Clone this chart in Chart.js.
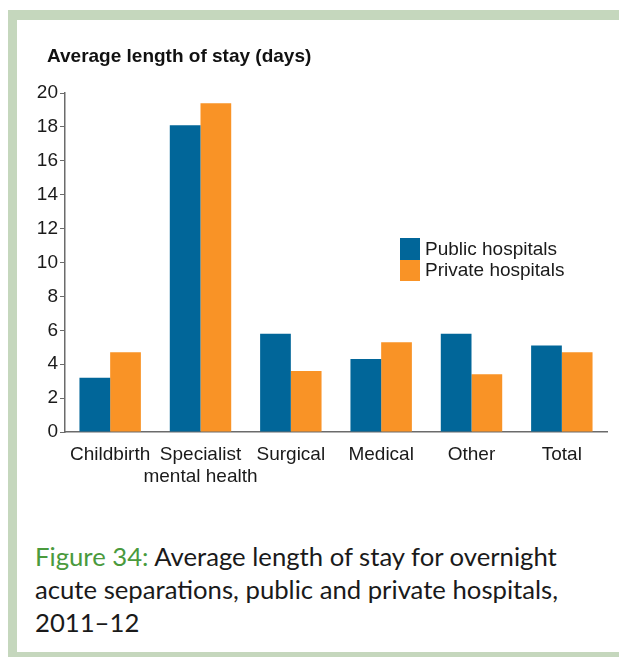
<!DOCTYPE html>
<html>
<head>
<meta charset="utf-8">
<title>Average length of stay</title>
<script src="https://cdn.jsdelivr.net/npm/chart.js@4/dist/chart.umd.min.js"></script>
<style>
  html, body { margin: 0; padding: 0; background: #fff; }
  body { width: 619px; height: 657px; position: relative; overflow: hidden; font-family: "Liberation Sans", Arial, sans-serif; }
  .frame { position: absolute; left: 8px; top: 10px; right: 0; bottom: 0; box-sizing: border-box;
           border-top: 10px solid #c5d7bd; border-left: 9px solid #c5d7bd; border-bottom: 5px solid #c5d7bd; }
  #chart { position: absolute; left: 0; top: 0; }
  .axis-title { position: absolute; left: 47px; top: 45px; font-weight: bold; font-size: 19px; color: #111; white-space: nowrap; }
  .legend { position: absolute; left: 400px; top: 238px; }
  .legend-item { height: 21.5px; display: flex; align-items: center; font-size: 19px; color: #1a1a1a; white-space: nowrap; }
  .swatch { width: 20px; height: 21.5px; margin-right: 5px; }
  .caption { position: absolute; left: 35px; top: 540px; font-family: "Lato", "Open Sans", sans-serif; font-size: 25.7px; line-height: 33px; color: #1a1a1a; }
  .caption .fig { color: #4a9a3d; }
</style>
</head>
<body>
<div class="frame"></div>
<canvas id="chart" width="619" height="520"></canvas>
<div class="axis-title">Average length of stay (days)</div>
<div class="legend" id="legend"></div>
<div class="caption"><span class="fig">Figure 34:</span> Average length of stay for overnight<br>acute separations, public and private hospitals,<br>2011–12</div>

<script>
// average length of stay, overnight acute separations, 2011-12
var categories   = ['Childbirth', ['Specialist', 'mental health'], 'Surgical', 'Medical', 'Other', 'Total'];
var publicStay   = [3.2, 18.1, 5.8, 4.3, 5.8, 5.1];
var privateStay  = [4.7, 19.4, 3.6, 5.3, 3.4, 4.7];
var seriesNames  = ['Public hospitals', 'Private hospitals'];
var seriesColors = ['#016699', '#f99326'];
var yMin = 0, yMax = 20, yStep = 2;

var textColor = '#1a1a1a';
var axisColor = '#6b6b6b';

var ctx = document.getElementById('chart');

var myChart = new Chart(ctx, {
  type: 'bar',
  data: {
    labels: categories,
    datasets: [
      { label: seriesNames[0], data: publicStay,  backgroundColor: seriesColors[0] },
      { label: seriesNames[1], data: privateStay, backgroundColor: seriesColors[1] }
    ]
  },
  options: {
    responsive: false,
    animation: false,
    categoryPercentage: 0.68,
    barPercentage: 1.0,
    layout: { padding: { top: 93, right: 12, bottom: 0, left: 0 } },
    plugins: {
      legend: { display: false },
      tooltip: { enabled: false }
    },
    scales: {
      x: {
        grid: { display: false, drawTicks: false },
        border: { display: true, color: axisColor, width: 1.5 },
        ticks: {
          color: textColor,
          padding: 12,
          maxRotation: 0,
          autoSkip: false,
          font: { family: '"Liberation Sans", Arial, sans-serif', size: 19, lineHeight: 1.15 }
        },
        afterFit: function(scale) { scale.height = 88; }
      },
      y: {
        min: yMin,
        max: yMax,
        grid: { display: true, drawOnChartArea: false, drawTicks: true, tickLength: 5, color: axisColor },
        border: { display: true, color: axisColor, width: 1.5 },
        ticks: {
          stepSize: yStep,
          color: textColor,
          padding: 2,
          font: { family: '"Liberation Sans", Arial, sans-serif', size: 19 }
        },
        afterFit: function(scale) { scale.width = 65; }
      }
    }
  }
});

// legend sits inside the plot, swatches stacked with no gap
var legendBox = document.getElementById('legend');
myChart.data.datasets.forEach(function(ds) {
  var item = document.createElement('div');
  item.className = 'legend-item';
  var sw = document.createElement('span');
  sw.className = 'swatch';
  sw.style.background = ds.backgroundColor;
  item.appendChild(sw);
  item.appendChild(document.createTextNode(ds.label));
  legendBox.appendChild(item);
});
</script>
</body>
</html>
